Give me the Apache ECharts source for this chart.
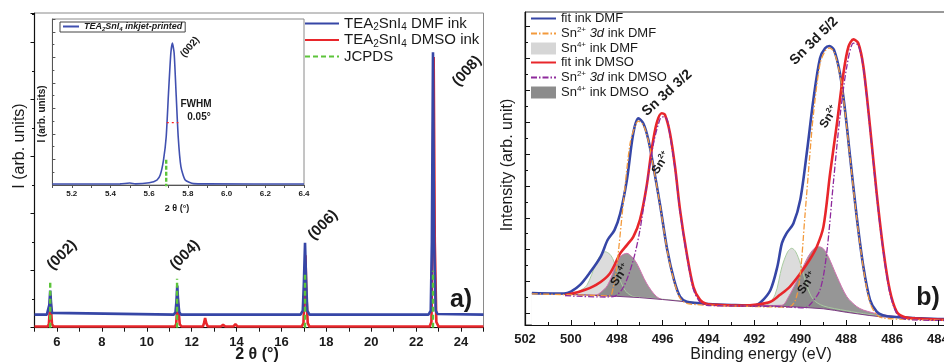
<!DOCTYPE html>
<html><head><meta charset="utf-8">
<script src="https://cdn.jsdelivr.net/npm/echarts@6/dist/echarts.min.js"></script>
<style>html,body{margin:0;padding:0;background:#fff}#c{width:944px;height:362px}</style>
</head><body><div id="c"></div>
<script>
const F = 'Liberation Sans';

// ---------- Panel a: XRD ----------
const xrdDMF = [[5,0.23],[5.55,0.23],[5.62,0.26],[5.66,0.4],[5.70,0.65],[5.74,0.42],[5.78,0.26],[5.85,0.23],
  [11.2,0.23],[11.28,0.27],[11.32,0.45],[11.36,0.74],[11.40,0.45],[11.45,0.27],[11.52,0.23],
  [16.85,0.23],[16.95,0.3],[17.0,0.8],[17.05,1.49],[17.1,0.8],[17.15,0.3],[17.25,0.23],
  [22.55,0.23],[22.65,0.3],[22.70,1.5],[22.75,4.83],[22.80,1.5],[22.87,0.3],[22.95,0.24],[25,0.23]];
const xrdDMSO = [[5,0.02],[5.58,0.02],[5.64,0.06],[5.68,0.3],[5.71,0.57],[5.74,0.3],[5.78,0.06],[5.85,0.02],
  [11.25,0.02],[11.31,0.06],[11.35,0.3],[11.38,0.52],[11.42,0.3],[11.47,0.06],[11.55,0.02],
  [12.5,0.02],[12.55,0.08],[12.6,0.17],[12.65,0.08],[12.72,0.02],[13.3,0.02],[13.4,0.05],[13.5,0.02],
  [13.85,0.02],[13.95,0.06],[14.05,0.02],
  [16.9,0.02],[16.98,0.08],[17.03,0.6],[17.07,1.27],[17.11,0.6],[17.17,0.08],[17.25,0.02],
  [22.6,0.02],[22.68,0.1],[22.73,1.5],[22.78,4.75],[22.83,1.5],[22.9,0.1],[23.0,0.02],[25,0.02]];
const jcpds = [[5.7,0],[5.7,0.81],[5.7,null],[11.35,0],[11.35,0.86],[11.35,null],
  [17.05,0],[17.05,0.97],[17.05,null],[22.75,0],[22.75,1.0]];

// inset
const insetDMF = [[5.1,0.007],[5.45,0.008],[5.5,0.014],[5.53,0.008],[5.6,0.016],[5.64,0.035],[5.657,0.07],
  [5.674,0.176],[5.688,0.34],[5.70,0.65],[5.712,0.93],[5.72,1.0],[5.729,0.93],[5.739,0.65],[5.75,0.34],
  [5.764,0.13],[5.786,0.035],[5.83,0.01],[5.9,0.008],[6.4,0.007]];
const insetJCPDS = [[5.688,-0.02],[5.688,0.19]];
const fwhmMark = [[5.691,0.44],[5.751,0.44]];

// ---------- Panel b: XPS ----------
const fitDMF = [[501.7,1.00],[500.8,0.99],[500.3,0.99],[500.0,1.05],[499.6,1.26],[499.2,1.62],[498.7,2.15],
  [498.4,2.67],[498.1,2.98],[497.85,3.5],[497.56,4.55],[497.28,6.02],[497.06,6.49],[496.84,6.33],[496.62,5.81],
  [496.4,4.97],[496.1,3.72],[495.8,2.36],[495.5,1.41],[495.24,0.89],[494.95,0.73],[494.5,0.69],[494,0.66],
  [493,0.63],[492,0.61],[491.7,0.73],[491.3,1.10],[491.0,1.83],[490.8,2.57],[490.6,2.88],[490.3,3.19],
  [490.0,3.93],[489.7,5.5],[489.43,7.07],[489.14,8.38],[488.92,8.69],[488.73,8.76],[488.53,8.64],[488.27,7.9],
  [488.05,6.75],[487.83,5.29],[487.54,3.4],[487.25,1.83],[486.96,0.79],[486.67,0.42],[486.4,0.31],[486,0.26],
  [485,0.22],[484,0.19],[483.5,0.18]];
const fitDMSO = [[500.25,0.94],[499.6,1.05],[498.9,1.26],[498.3,1.62],[497.85,2.25],[497.56,2.51],[497.28,2.77],
  [496.99,3.3],[496.7,4.35],[496.48,5.5],[496.26,6.34],[496.04,6.65],[495.9,6.6],[495.68,6.02],[495.46,4.97],
  [495.24,3.61],[494.95,2.25],[494.66,1.2],[494.37,0.79],[494.08,0.66],[493.5,0.63],[492.5,0.61],[491.9,0.64],
  [491.3,0.73],[490.9,0.94],[490.46,1.2],[490.0,1.62],[489.6,2.04],[489.28,2.46],[488.99,3.09],[488.7,4.76],
  [488.4,6.34],[488.12,7.9],[487.9,8.74],[487.68,8.97],[487.47,8.85],[487.25,8.12],[486.96,6.23],[486.67,4.14],
  [486.38,2.36],[486.1,1.1],[485.8,0.42],[485.5,0.26],[485.07,0.21],[484,0.17],[483.5,0.16]];
const sn2DMF = [[501.7,0.98],[499,0.93],[498.3,0.91],[498.15,1.2],[498.0,1.83],[497.7,3.93],[497.42,5.7],
  [497.2,6.25],[497.06,6.4],[496.84,6.28],[496.62,5.78],[496.4,4.95],[496.1,3.7],[495.8,2.33],[495.5,1.37],
  [495.24,0.84],[494.95,0.68],[494.5,0.64],[494,0.62],[492,0.58],[490.5,0.56],[490.2,0.8],[490.0,1.6],
  [489.8,3.4],[489.6,5.2],[489.43,6.6],[489.14,8.2],[488.92,8.6],[488.73,8.7],[488.53,8.58],[488.27,7.85],
  [488.05,6.7],[487.83,5.25],[487.54,3.35],[487.25,1.78],[486.96,0.7],[486.67,0.32],[486.4,0.22],[485,0.17],[483.5,0.15]];
const sn2DMSO = [[500.25,0.92],[498.5,0.88],[498.1,0.9],[497.7,1.2],[497.28,2.04],[496.99,2.98],[496.7,4.35],
  [496.4,5.7],[496.1,6.49],[495.96,6.54],[495.8,6.45],[495.68,5.95],[495.46,4.9],[495.24,3.55],[494.95,2.18],
  [494.66,1.12],[494.37,0.72],[494.08,0.62],[493,0.6],[491,0.58],[489.8,0.54],[489.6,0.62],[489.14,1.1],
  [488.85,2.25],[488.56,4.45],[488.27,6.54],[487.97,8.12],[487.68,8.85],[487.47,8.78],[487.25,8.05],
  [486.96,6.15],[486.67,4.05],[486.38,2.28],[486.1,1.02],[485.8,0.36],[485.5,0.2],[485,0.16],[483.5,0.14]];
const sn4DMF = [[501.7,1.0],[500.3,0.98],[499.9,0.99],[499.6,1.08],[499.3,1.25],[498.9,1.94],[498.7,2.2],
  [498.5,2.3],[498.3,2.22],[498.15,2.04],[497.85,1.4],[497.6,1.05],[497.3,0.9],[497,0.87],[496,0.81],[495,0.74],
  [494,0.66],[492,0.61],[491.5,0.62],[491.1,0.95],[490.8,1.83],[490.55,2.3],[490.37,2.41],[490.2,2.3],
  [490.0,1.94],[489.7,1.2],[489.43,0.8],[489,0.6],[488,0.45],[487,0.33],[486,0.26],[484,0.19],[483.5,0.18]];
const sn4DMSO = [[500.25,0.94],[499,0.94],[498.8,0.97],[498.4,1.25],[498.0,1.94],[497.8,2.18],[497.56,2.25],
  [497.35,2.15],[497.13,1.94],[496.7,1.31],[496.26,0.89],[495.8,0.75],[495,0.72],[494,0.66],[492,0.61],
  [490.8,0.62],[490.5,0.9],[490.2,1.31],[489.7,2.09],[489.4,2.4],[489.2,2.46],[489.0,2.4],[488.78,2.15],
  [488.4,1.52],[487.97,0.89],[487.54,0.58],[487.25,0.47],[486.5,0.33],[485,0.22],[483.5,0.18]];
const baseline = [[501.7,1.0],[500.3,0.97],[499,0.93],[498,0.9],[497,0.86],[496,0.8],[495,0.73],[494.5,0.68],
  [494,0.65],[493,0.62],[492,0.6],[491,0.59],[490,0.56],[489,0.51],[488.5,0.46],[488,0.4],[487.5,0.35],
  [487,0.3],[486.5,0.26],[486,0.24],[485,0.2],[484,0.17],[483.5,0.16]];
const yTicksB = [0.367,1.367,2.367,3.367,4.367,5.367,6.367,7.367,8.367,9.367];
const yMinorB = [0.867,1.867,2.867,3.867,4.867,5.867,6.867,7.867,8.867];

const BLUE = '#3646a6', RED = '#e8262b', GREEN = '#5cc43a', ORANGE = '#f39a3c', PURPLE = '#8e2a9c';
const TXT = '#1a1a1a';

const chart = echarts.init(document.getElementById('c'));

const sub = {fontSize:10, lineHeight:10, verticalAlign:'bottom', fontFamily:F, color:TXT};
const richA = {n:{fontSize:15, lineHeight:18, fontFamily:F, color:TXT}, s:sub};
const richB = {n:{fontSize:13, lineHeight:15, fontFamily:F, color:TXT},
  p:{fontSize:8, lineHeight:8, verticalAlign:'top', fontFamily:F, color:TXT},
  i:{fontSize:13, lineHeight:15, fontStyle:'italic', fontFamily:F, color:TXT}};
const richI = {n:{fontSize:9, lineHeight:11, fontFamily:F, fontStyle:'italic', fontWeight:'bold', color:TXT},
  s:{fontSize:6, lineHeight:6, verticalAlign:'bottom', fontFamily:F, fontStyle:'italic', fontWeight:'bold', color:TXT}};

function T(x, y, text, size, rot, opts) {
  opts = opts || {};
  return {type:'text', x:x, y:y, rotation:(rot||0)*Math.PI/180, z:100,
    style:Object.assign({text:text, fontSize:size, fontFamily:F, fontWeight:opts.w||'bold', fill:TXT,
      align:'center', verticalAlign:'middle', textAlign:'center', textVerticalAlign:'middle'}, opts.style||{})};
}
const supRich = (s) => ({n:{fontSize:s, fontWeight:'bold', fontFamily:F, fill:TXT, lineHeight:s+2},
  p:{fontSize:s*0.62, fontWeight:'bold', fontFamily:F, fill:TXT, lineHeight:s*0.62, verticalAlign:'top'}});

const option = {
  animation:false,
  backgroundColor:'#fff',
  grid:[
    {left:34.5, top:13, width:449, height:314.7, show:true, borderColor:'#8a8a8a', borderWidth:1, outerBoundsMode:'none', containLabel:false},
    {left:52.4, top:19, width:251.6, height:166, show:true, borderColor:'#8a8a8a', borderWidth:1, backgroundColor:'#fff', z:3, outerBoundsMode:'none', containLabel:false},
    {left:525, top:12, width:458.8, height:313, show:true, borderColor:'#333', borderWidth:1, outerBoundsMode:'none', containLabel:false}
  ],
  xAxis:[
    {gridIndex:0, type:'value', min:5, max:25, interval:1,
      axisLine:{lineStyle:{color:'#111', width:1.2}}, axisTick:{length:4, lineStyle:{color:'#111'}},
      axisLabel:{margin:8, fontSize:13, fontWeight:'bold', fontFamily:F, color:TXT,
        formatter:v => (Math.round(v)%2===0 ? String(Math.round(v)) : '')},
      splitLine:{show:false}},
    {gridIndex:1, type:'value', min:5.1, max:6.4, interval:0.1, z:4,
      axisLine:{lineStyle:{color:'#555', width:1}}, axisTick:{length:3, lineStyle:{color:'#555'}},
      axisLabel:{margin:5, fontSize:8, fontWeight:'bold', fontFamily:F, color:TXT,
        formatter:v => (Math.round(v*10)%2===0 ? v.toFixed(1) : '')},
      splitLine:{show:false}},
    {gridIndex:2, type:'value', min:482, max:502, interval:2, inverse:true, z:10,
      axisLine:{onZero:false, lineStyle:{color:'#111', width:1.2}},
      axisTick:{inside:true, length:5, lineStyle:{color:'#111'}},
      minorTick:{show:true, splitNumber:2, length:3, lineStyle:{color:'#111'}},
      axisLabel:{margin:8, fontSize:13, fontWeight:'bold', fontFamily:F, color:TXT},
      splitLine:{show:false}, minorSplitLine:{show:false}}
  ],
  yAxis:[
    {gridIndex:0, type:'value', min:0, max:5.52, interval:1,
      axisLine:{show:true, lineStyle:{color:'#111', width:1.2}}, axisTick:{length:4, lineStyle:{color:'#111'}},
      minorTick:{show:true, splitNumber:2, length:2.5, lineStyle:{color:'#111'}},
      axisLabel:{show:false}, splitLine:{show:false}, minorSplitLine:{show:false}},
    {gridIndex:1, type:'value', min:0, max:1.17, interval:0.18, z:4,
      axisLine:{show:true, lineStyle:{color:'#555'}}, axisTick:{inside:true, length:3, lineStyle:{color:'#555'}},
      minorTick:{show:true, splitNumber:2, length:2, lineStyle:{color:'#555'}},
      axisLabel:{show:false}, splitLine:{show:false}, minorSplitLine:{show:false}},
    {gridIndex:2, type:'value', min:0, max:9.83,
      axisLine:{show:true, lineStyle:{color:'#111', width:1.2}},
      axisTick:{inside:true, length:5, customValues:yTicksB, lineStyle:{color:'#111'}},
      axisLabel:{show:false}, splitLine:{show:false}},
    {gridIndex:2, type:'value', min:0, max:9.83, position:'left',
      axisLine:{show:false},
      axisTick:{inside:true, length:3, customValues:yMinorB, lineStyle:{color:'#111'}},
      axisLabel:{show:false}, splitLine:{show:false}}
  ],
  legend:[
    {orient:'vertical', left:304, top:16, padding:0, itemWidth:34, itemHeight:10, itemGap:0,
      itemStyle:{opacity:0},
      data:['TEA2SnI4 DMF ink','TEA2SnI4 DMSO ink','JCPDS'],
      textStyle:{fontSize:15, fontFamily:F, color:TXT, rich:richA},
      formatter:n => n==='JCPDS' ? '{n|JCPDS}' :
        '{n|TEA}{s|2}{n|SnI}{s|4}{n|' + (n.indexOf('DMSO')>0 ? ' DMSO ink' : ' DMF ink') + '}'},
    {orient:'vertical', left:60, top:22, padding:[0,3,0,2], borderColor:'#444', borderWidth:1, backgroundColor:'#fff',
      itemWidth:16, itemHeight:6, itemGap:0, z:6, itemStyle:{opacity:0},
      data:['TEA2SnI4 inkjet-printed'],
      textStyle:{fontSize:9, fontFamily:F, color:TXT, rich:richI},
      formatter:() => '{n|TEA}{s|2}{n|SnI}{s|4}{n| inkjet-printed}'},
    {orient:'vertical', left:530, top:12, padding:0, itemWidth:25, itemHeight:12, itemGap:1, itemStyle:{opacity:0},
      data:['fit ink DMF','Sn2+ 3d ink DMF',{name:'Sn4+ ink DMF', icon:'rect', itemStyle:{color:'#d6d6d6', opacity:1}},
        'fit ink DMSO','Sn2+ 3d ink DMSO',{name:'Sn4+ ink DMSO', icon:'rect', itemStyle:{color:'#8c8c8c', opacity:1}}],
      textStyle:{fontSize:13, fontFamily:F, color:TXT, rich:richB},
      formatter:n => {
        const sol = n.indexOf('DMSO')>0 ? 'DMSO' : 'DMF';
        if (n.indexOf('fit')===0) return '{n|fit ink ' + sol + '}';
        if (n.indexOf('Sn2+')===0) return '{n|Sn}{p|2+}{n| }{i|3d}{n| ink ' + sol + '}';
        return '{n|Sn}{p|4+}{n| ink ' + sol + '}';
      }}
  ],
  series:[
    // panel a
    {name:'TEA2SnI4 DMF ink', type:'line', xAxisIndex:0, yAxisIndex:0, data:xrdDMF, symbol:'none',
      lineStyle:{color:BLUE, width:2.6}, itemStyle:{color:BLUE}, z:4},
    {name:'TEA2SnI4 DMSO ink', type:'line', xAxisIndex:0, yAxisIndex:0, data:xrdDMSO, symbol:'none',
      lineStyle:{color:RED, width:2.6}, itemStyle:{color:RED}, z:3},
    {name:'JCPDS', type:'line', xAxisIndex:0, yAxisIndex:0, data:jcpds, symbol:'none', connectNulls:false,
      lineStyle:{color:GREEN, width:2.4, type:[5,3]}, itemStyle:{color:GREEN}, z:5},
    // inset
    {name:'TEA2SnI4 inkjet-printed', type:'line', xAxisIndex:1, yAxisIndex:1, data:insetDMF, symbol:'none', smooth:0.2,
      lineStyle:{color:'#4050b0', width:1.6}, itemStyle:{color:'#4050b0'}, z:6},
    {name:'insetJCPDS', type:'line', xAxisIndex:1, yAxisIndex:1, data:insetJCPDS, symbol:'none',
      lineStyle:{color:GREEN, width:2.4, type:[4,2]}, z:7},
    {name:'fwhm', type:'line', xAxisIndex:1, yAxisIndex:1, data:fwhmMark, symbol:'none',
      lineStyle:{color:'#ff2020', width:1.2, type:[2,3]}, z:7},
    // panel b fills
    {name:'Sn4+ ink DMF', type:'line', xAxisIndex:2, yAxisIndex:2, data:sn4DMF, symbol:'none', smooth:0.3,
      lineStyle:{color:'#a9cba0', width:1}, areaStyle:{color:'#d8d8d8', opacity:0.9}, itemStyle:{color:'#d6d6d6'}, z:1},
    {name:'Sn4+ ink DMSO', type:'line', xAxisIndex:2, yAxisIndex:2, data:sn4DMSO, symbol:'none', smooth:0.3,
      lineStyle:{color:'#d070b0', width:1}, areaStyle:{color:'#6e6e6e', opacity:0.72}, itemStyle:{color:'#8c8c8c'}, z:1},
    {name:'mask', type:'line', xAxisIndex:2, yAxisIndex:2, data:baseline, symbol:'none', silent:true,
      lineStyle:{width:1, color:'#7a3a80'}, areaStyle:{color:'#fff', opacity:1}, z:2},
    // panel b lines
    {name:'fit ink DMF', type:'line', xAxisIndex:2, yAxisIndex:2, data:fitDMF, symbol:'none', smooth:0.3,
      lineStyle:{color:BLUE, width:2.6}, itemStyle:{color:BLUE}, z:3},
    {name:'fit ink DMSO', type:'line', xAxisIndex:2, yAxisIndex:2, data:fitDMSO, symbol:'none', smooth:0.3,
      lineStyle:{color:RED, width:2.6}, itemStyle:{color:RED}, z:3},
    {name:'Sn2+ 3d ink DMF', type:'line', xAxisIndex:2, yAxisIndex:2, data:sn2DMF, symbol:'none', smooth:0.3,
      lineStyle:{color:ORANGE, width:1.3, type:[6,2,1.5,2]}, itemStyle:{color:ORANGE}, z:4},
    {name:'Sn2+ 3d ink DMSO', type:'line', xAxisIndex:2, yAxisIndex:2, data:sn2DMSO, symbol:'none', smooth:0.3,
      lineStyle:{color:PURPLE, width:1.3, type:[6,2,1.5,2]}, itemStyle:{color:PURPLE}, z:4}
  ],
  graphic:[
    // panel a
    T(62,255,'(002)',15,45), T(185,255,'(004)',15,45), T(323,225,'(006)',15,45), T(467,71,'(008)',15,48),
    T(461,300,'a)',25,0),
    T(20,146,'I (arb. units)',16,90,{w:'normal'}),
    T(257,355,'2 θ (°)',16,0),
    // inset
    T(190,47,'(002)',10,50), T(196,104,'FWHM',10,0), T(199,117,'0.05°',10,0),
    T(177,209,'2 θ (°)',9,0), T(42,114,'I (arb. units)',10,90),
    // panel b
    T(667,93,'Sn 3d 3/2',14,42), T(814,41,'Sn 3d 5/2',14,45),
    T(661,163,'{n|Sn}{p|2+}',12,58,{style:{rich:supRich(12)}}),
    T(829,117,'{n|Sn}{p|2+}',12,58,{style:{rich:supRich(12)}}),
    T(620,275,'{n|Sn}{p|4+}',12,55,{style:{rich:supRich(12)}}),
    T(807,283,'{n|Sn}{p|4+}',12,55,{style:{rich:supRich(12)}}),
    T(928,298,'b)',25,0),
    T(508,165,'Intensity (arb. unit)',16,90,{w:'normal'}),
    T(761,355,'Binding energy (eV)',16,0,{w:'normal'})
  ]
};
chart.setOption(option);
</script>
</body></html>
